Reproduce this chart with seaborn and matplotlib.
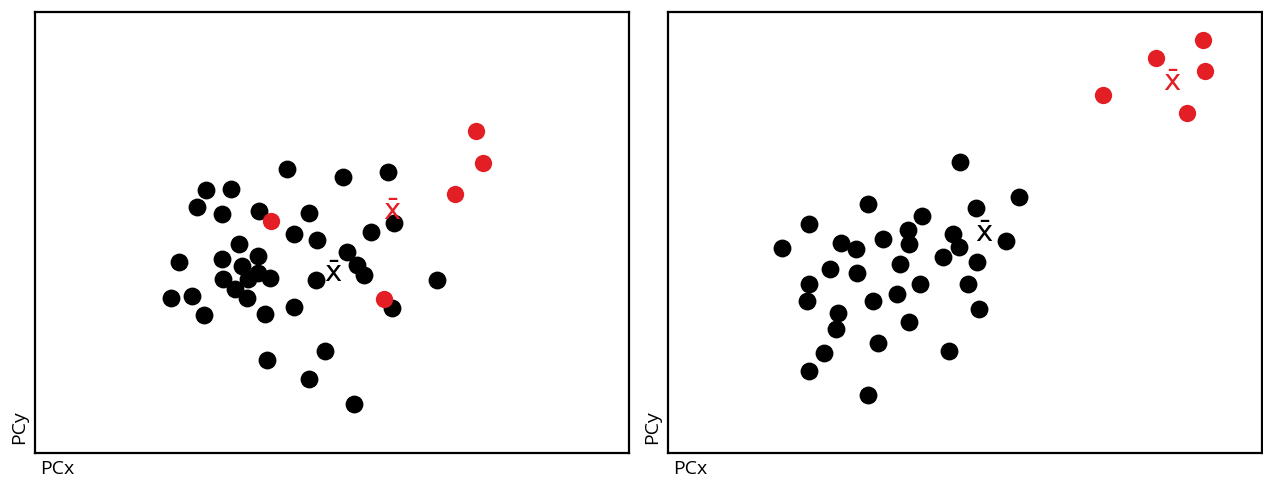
import seaborn as sns
import matplotlib.pyplot as plt
import pandas as pd

# values (pixel-like units, origin at each panel's bottom-left)
left_black_x = [252, 308, 353, 171, 196, 162, 187, 224, 274, 359, 259, 282, 336, 204, 144, 187,
                223, 312, 207, 322, 329, 223, 235, 213, 188, 281, 402, 200, 212, 136, 157, 169,
                230, 259, 357, 290, 232, 274, 319]
left_black_y = [284, 276, 281, 263, 264, 246, 239, 242, 240, 230, 219, 213, 221, 209, 191, 194,
                197, 201, 187, 188, 178, 180, 175, 174, 174, 173, 173, 164, 155, 155, 157, 138,
                139, 146, 145, 102, 93, 74, 49]
left_red_x = [236, 349, 441, 448, 420]
left_red_y = [232, 154, 322, 290, 259]
left_means = {"black": (298, 180), "red": (357, 242)}

right_black_x = [292, 351, 200, 308, 141, 254, 240, 241, 215, 285, 291, 338, 114, 173, 188, 275,
                 309, 232, 162, 189, 141, 139, 252, 300, 229, 205, 311, 170, 168, 241, 210, 281,
                 156, 141, 200]
right_black_y = [291, 256, 249, 245, 229, 237, 223, 209, 214, 219, 206, 212, 205, 210, 204, 196,
                 191, 189, 184, 180, 169, 152, 169, 169, 159, 152, 144, 140, 124, 131, 110, 102,
                 100, 82, 58]
right_red_x = [535, 488, 537, 435, 519]
right_red_y = [413, 395, 382, 358, 340]
right_means = {"black": (316, 220), "red": (504, 371)}

panels = [
    (left_black_x, left_black_y, left_red_x, left_red_y, left_means),
    (right_black_x, right_black_y, right_red_x, right_red_y, right_means),
]

sns.set_style("white")
plt.rcParams['font.family'] = ['Open Sans', 'DejaVu Sans']

fig = plt.figure(figsize=(12.63, 4.79), dpi=100)
W, H = 1263, 479
lefts = [35, 668]
red = "#e31e24"

for left, (bx, by, rx, ry, means) in zip(lefts, panels):
    ax = fig.add_axes([left / W, 26 / H, 594 / W, 441 / H])
    df_b = pd.DataFrame({"PCx": bx, "PCy": by})
    df_r = pd.DataFrame({"PCx": rx, "PCy": ry})
    sns.scatterplot(data=df_b, x="PCx", y="PCy", ax=ax, color="black", s=165,
                    linewidth=0, zorder=3)
    sns.scatterplot(data=df_r, x="PCx", y="PCy", ax=ax, color=red, s=155,
                    linewidth=0, zorder=4)
    for key, col in [("black", "black"), ("red", red)]:
        mx, my = means[key]
        ax.text(mx, my, "x\u0304", color=col, fontsize=21, ha="center", va="center",
                family=['DejaVu Sans'], zorder=5)
    ax.set_xlim(0, 594)
    ax.set_ylim(0, 441)
    ax.set_xticks([])
    ax.set_yticks([])
    for sp in ax.spines.values():
        sp.set_visible(True)
        sp.set_color("black")
        sp.set_linewidth(1.6)
    ax.set_xlabel("PCx", loc="left", fontsize=14, labelpad=5, color="black")
    ax.set_ylabel("PCy", loc="bottom", fontsize=14, labelpad=5, color="black")
    ax.xaxis.label.set_x(0.008)
    ax.yaxis.label.set_y(0.02)

plt.savefig("out.png", dpi=100)
